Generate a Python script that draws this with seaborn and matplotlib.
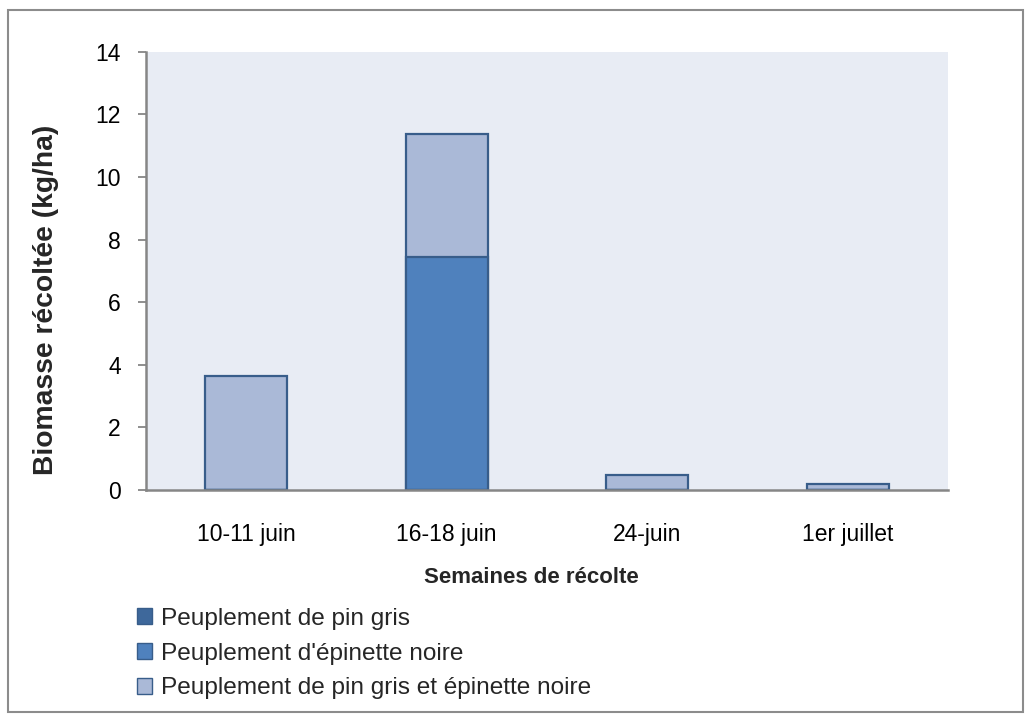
import matplotlib
matplotlib.use("Agg")
import matplotlib.pyplot as plt
from matplotlib.patches import Patch, Rectangle
import seaborn as sns
import numpy as np

# Harvest weeks and harvested biomass (kg/ha) per stand type
categories = ["10-11 juin", "16-18 juin", "24-juin", "1er juillet"]
pin_gris = [0.0, 0.0, 0.0, 0.0]
epinette_noire = [0.0, 7.44, 0.0, 0.0]
pin_et_epinette = [3.63, 3.94, 0.47, 0.18]

series_labels = [
    "Peuplement de pin gris",
    "Peuplement d'épinette noire",
    "Peuplement de pin gris et épinette noire",
]
yticks = [0, 2, 4, 6, 8, 10, 12, 14]

c_dark = "#3E689B"
c_mid = "#4F81BD"
c_light = "#AAB9D7"
c_edge = "#385D8A"
c_axis = "#868686"

sns.set_theme(style="white")
plt.rcParams["font.family"] = ["Liberation Sans", "DejaVu Sans"]

fig = plt.figure(figsize=(10.31, 7.19), dpi=100)
ax = fig.add_axes([0.1416, 0.3186, 0.7779, 0.6092])
ax.set_facecolor("#E8ECF4")

# cumulative stacks, drawn back to front
top_all = np.array(pin_gris) + np.array(epinette_noire) + np.array(pin_et_epinette)
top_mid = np.array(pin_gris) + np.array(epinette_noire)
top_low = np.array(pin_gris)

for vals, col in [(top_all, c_light), (top_mid, c_mid), (top_low, c_dark)]:
    sns.barplot(x=categories, y=vals, order=categories, color=col, saturation=1,
                width=0.41, edgecolor=c_edge, linewidth=1.6, errorbar=None, ax=ax)

ax.set_xlim(-0.5, len(categories) - 0.5)
ax.set_ylim(0, 14)
ax.set_yticks(yticks)
ax.set_yticklabels([str(v) for v in yticks], fontsize=16.5)
ax.set_xticks(range(len(categories)))
ax.set_xticklabels(categories, fontsize=16.5)
ax.set_xticks(np.arange(-0.5, len(categories), 1.0), minor=True)

ax.tick_params(axis="x", which="major", length=0, pad=24, colors="black")
ax.tick_params(axis="x", which="minor", length=6, width=1.3, color=c_axis, direction="out")
ax.tick_params(axis="y", which="major", length=6, width=1.3, color=c_axis,
               direction="out", left=True, pad=12, labelcolor="black")

for side in ["top", "right"]:
    ax.spines[side].set_visible(False)
for side in ["left", "bottom"]:
    ax.spines[side].set_color(c_axis)
    ax.spines[side].set_linewidth(1.8)
ax.spines["bottom"].set_zorder(5)

ax.set_xlabel("Semaines de récolte", fontsize=16, fontweight="bold")
ax.xaxis.set_label_coords(0.481, -0.177)
ax.set_ylabel("Biomasse récoltée (kg/ha)", fontsize=20.3, fontweight="bold")
ax.yaxis.set_label_coords(-0.108, 0.435)

handles = [Patch(facecolor=c, edgecolor=c_edge, linewidth=1.0)
           for c in (c_dark, c_mid, c_light)]
fig.legend(handles, series_labels, loc="upper left", bbox_to_anchor=(0.133, 0.155),
           frameon=False, fontsize=17.6, handlelength=0.62, handleheight=0.62,
           handletextpad=0.36, labelspacing=0.53, borderaxespad=0, borderpad=0)

fig.patches.append(Rectangle((8 / 1031, 1 - 712 / 719), 1015 / 1031, 702 / 719,
                             transform=fig.transFigure, fill=False,
                             edgecolor="#8C8C8C", linewidth=1.5))

fig.savefig("out.png", dpi=100, facecolor="white")
